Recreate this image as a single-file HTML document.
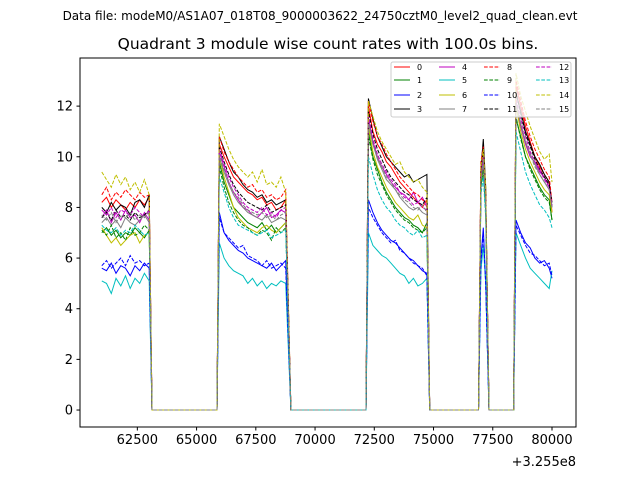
<!DOCTYPE html>
<html><head><meta charset="utf-8"><style>
body{margin:0;background:#fff;}
svg text{font-family:"DejaVu Sans","Liberation Sans",sans-serif;}
</style></head><body>
<svg id="chart" width="640" height="480" xmlns="http://www.w3.org/2000/svg">
<rect width="640" height="480" fill="#fff"/>
<text x="320" y="20" font-size="12" text-anchor="middle">Data file: modeM0/AS1A07_018T08_9000003622_24750cztM0_level2_quad_clean.evt</text>
<text x="328" y="49" font-size="15.5" text-anchor="middle">Quadrant 3 module wise count rates with 100.0s bins.</text>
<g id="plot"></g>
<rect x="80" y="58" width="496" height="369" fill="none" stroke="#000" stroke-width="1"/>
<text x="576" y="466" font-size="13" text-anchor="end">+3.255e8</text>
</svg>
<script>
const times=[61000,61200,61400,61600,61800,62000,62200,62400,62600,62800,63000,63120,65860,
65960,66160,66360,66560,66760,66960,67160,67360,67560,67760,67960,68160,68360,68560,68760,68980,72150,
72250,72440,72630,72820,73010,73200,73390,73580,73770,73960,74150,74340,74530,74720,74840,76900,
77000,77100,77200,77340,78380,78480,78680,78880,79080,79280,79480,79680,79880,80000];
const s0=[8.2,8.4,8.0,8.3,8.1,7.9,8.2,8.0,8.3,8.1,8.4,0,0,10.5,10.0,9.6,9.2,9.0,8.8,8.6,8.5,8.3,8.4,8.1,8.2,7.9,8.0,8.3,0,0,12.0,11.0,10.5,10.2,9.8,9.6,9.3,9.0,8.8,8.6,8.4,8.2,8.0,8.3,0,0,9.5,10.2,8.5,0,0,12.8,12.0,11.2,10.6,10.0,9.6,9.3,9.0,7.8];
const s1=[7.0,7.2,6.9,7.1,6.8,7.0,6.9,7.2,7.0,6.8,7.1,0,0,9.8,9.0,8.5,8.0,7.8,7.6,7.4,7.3,7.2,7.4,7.1,7.3,7.0,7.2,7.4,0,0,11.0,10.0,9.5,9.0,8.6,8.3,8.0,7.8,7.6,7.5,7.3,7.2,7.0,7.4,0,0,8.8,9.6,8.0,0,0,11.5,10.8,10.0,9.6,9.2,8.8,8.5,8.3,7.5];
const s2=[5.6,5.5,5.8,5.4,5.7,5.6,5.3,5.7,5.5,5.8,5.6,0,0,7.8,7.0,6.7,6.5,6.3,6.2,6.0,5.9,5.8,5.7,5.6,5.8,5.5,5.7,5.9,0,0,8.3,7.8,7.4,7.1,6.9,6.7,6.6,6.4,6.2,6.0,5.9,5.7,5.5,5.4,0,0,6.0,7.2,5.0,0,0,7.5,7.0,6.6,6.4,6.0,5.8,5.9,5.6,5.2];
const s3=[8.0,7.8,8.2,7.9,8.1,8.0,7.7,8.2,8.3,8.0,8.5,0,0,10.8,10.3,9.8,9.4,9.2,8.9,8.7,8.6,8.4,8.5,8.2,8.3,8.1,8.2,8.3,0,0,12.3,11.5,10.8,10.4,10.0,9.8,9.6,9.4,9.2,9.3,9.0,9.1,9.2,9.3,0,0,9.5,10.7,8.8,0,0,12.5,11.8,11.0,10.5,10.0,9.7,9.3,9.0,8.0];
const s4=[7.6,7.9,7.4,7.8,7.5,7.9,7.6,7.7,7.4,7.8,7.5,0,0,10.2,9.6,9.0,8.6,8.3,8.0,7.9,7.7,7.6,7.8,8.0,7.6,7.7,7.9,7.8,0,0,11.5,10.6,10.0,9.6,9.3,9.0,8.8,8.6,8.5,8.3,8.6,8.2,8.4,8.0,0,0,9.2,10.0,8.3,0,0,12.0,11.2,10.5,10.0,9.8,9.4,9.2,8.8,8.0];
const s5=[5.1,5.0,4.6,5.2,4.9,5.3,4.8,5.2,5.0,5.4,5.1,0,0,6.6,6.0,5.7,5.5,5.4,5.3,5.0,5.2,4.9,5.1,4.8,5.0,4.9,5.1,5.0,0,0,7.0,6.5,6.3,6.1,6.0,5.8,5.6,5.4,5.3,5.0,5.2,4.9,5.0,5.2,0,0,5.5,6.5,5.0,0,0,7.0,6.5,6.0,5.6,5.4,5.2,5.0,4.8,5.5];
const s6=[7.2,6.9,6.6,6.8,6.5,6.7,6.9,7.0,6.6,6.9,7.0,0,0,10.0,9.2,8.6,8.0,7.6,7.4,7.2,7.1,7.0,7.2,7.3,7.1,7.0,7.2,7.4,0,0,11.2,10.2,9.6,9.2,8.8,8.5,8.2,8.0,7.8,7.6,7.5,7.7,7.3,7.2,0,0,9.0,9.8,8.0,0,0,12.0,11.0,10.3,9.8,9.4,9.0,8.7,8.5,7.8];
const s7=[7.4,7.6,7.3,7.5,7.2,7.6,7.4,7.3,7.5,7.7,7.4,0,0,10.0,9.4,8.9,8.5,8.2,8.0,7.8,7.7,7.6,7.5,7.7,7.4,7.5,7.6,7.5,0,0,11.4,10.5,9.9,9.5,9.1,8.9,8.7,8.4,8.2,8.0,7.9,8.0,7.8,7.7,0,0,9.0,9.8,8.1,0,0,12.2,11.3,10.6,10.1,9.7,9.3,9.0,8.7,8.0];
const s8=[8.5,8.8,8.3,8.6,8.4,8.7,8.5,8.3,8.6,8.4,8.5,0,0,10.8,10.2,9.8,9.5,9.2,9.0,8.8,8.9,8.6,8.7,8.4,8.5,8.3,8.4,8.7,0,0,12.2,11.4,10.8,10.5,10.1,9.8,9.5,9.2,9.0,8.8,8.6,8.5,8.3,8.2,0,0,9.8,10.4,8.6,0,0,13.0,12.2,11.4,10.8,10.3,9.9,9.5,9.2,8.2];
const s9=[7.1,6.9,7.3,6.8,7.0,6.7,7.2,6.9,7.0,7.3,7.1,0,0,9.6,8.8,8.2,7.8,7.5,7.3,7.2,7.0,6.9,7.1,7.0,6.7,7.2,7.0,7.2,0,0,10.8,9.9,9.3,8.9,8.5,8.2,7.9,7.7,7.5,7.4,7.2,7.1,7.0,7.2,0,0,8.8,9.5,7.9,0,0,11.6,10.7,10.0,9.5,9.1,8.7,8.4,8.2,7.5];
const s10=[5.7,5.9,5.6,5.8,6.0,5.7,6.1,5.8,5.9,5.7,5.8,0,0,7.6,7.0,6.8,6.6,6.4,6.5,6.1,6.0,5.9,5.7,5.9,5.6,5.7,5.8,5.6,0,0,8.0,7.6,7.3,7.0,6.8,6.6,6.7,6.3,6.2,6.0,5.8,5.7,5.6,5.3,0,0,5.8,7.0,5.0,0,0,7.3,6.9,6.5,6.2,6.1,5.9,5.7,5.8,5.3];
const s11=[7.6,7.8,7.5,7.9,7.6,7.7,7.5,7.8,7.6,7.7,7.9,0,0,10.4,9.8,9.3,8.9,8.6,8.4,8.2,8.1,8.0,7.9,8.1,7.8,7.9,8.0,8.1,0,0,11.8,10.9,10.3,9.9,9.5,9.2,9.0,8.8,8.6,8.5,8.3,8.2,8.1,8.4,0,0,9.3,10.3,8.5,0,0,12.6,11.7,10.9,10.4,9.9,9.5,9.2,8.9,8.2];
const s12=[7.9,7.7,8.0,7.6,7.9,7.8,7.7,8.0,7.8,7.6,7.9,0,0,10.3,9.7,9.2,8.8,8.5,8.2,8.0,7.9,7.8,8.0,7.7,7.8,7.6,7.9,8.0,0,0,11.6,10.7,10.1,9.7,9.4,9.1,8.9,8.6,8.4,8.3,8.1,8.2,8.0,7.9,0,0,9.1,10.0,8.4,0,0,12.3,11.5,10.8,10.2,9.8,9.5,9.1,8.8,8.1];
const s13=[7.3,7.1,7.0,7.2,6.9,7.1,7.0,7.3,7.1,6.9,7.0,0,0,9.2,8.6,8.0,7.6,7.3,7.2,7.1,7.0,6.9,7.0,7.1,6.8,6.9,7.0,7.1,0,0,10.0,9.3,8.7,8.3,8.0,7.8,7.5,7.3,7.2,7.0,6.9,7.1,6.8,6.9,0,0,8.5,9.2,7.6,0,0,11.0,10.2,9.4,8.9,8.5,8.1,7.9,7.6,7.2];
const s14=[9.4,9.1,8.8,9.3,8.9,9.2,8.7,9.0,8.6,9.1,8.5,0,0,11.3,10.8,10.3,9.9,9.6,9.4,9.2,9.4,9.0,9.5,8.9,9.0,8.8,9.2,8.6,0,0,12.2,11.6,11.0,10.6,10.3,10.0,9.7,9.8,9.4,9.2,9.0,9.1,8.8,8.6,0,0,9.6,10.3,8.8,0,0,13.3,12.4,11.8,11.2,10.7,10.2,9.9,10.1,9.0];
const s15=[7.7,7.5,7.8,7.4,7.7,7.6,7.8,7.5,7.7,7.6,7.8,0,0,10.1,9.5,9.0,8.6,8.4,8.1,7.9,7.8,7.7,7.8,7.6,7.7,7.5,7.7,7.8,0,0,11.3,10.5,10.0,9.6,9.2,9.0,8.7,8.5,8.3,8.2,8.0,7.9,8.1,7.8,0,0,9.0,9.9,8.2,0,0,12.1,11.3,10.6,10.1,9.6,9.3,9.0,8.7,8.0];
const seriesLabels=["0","1","2","3","4","5","6","7","8","9","10","11","12","13","14","15"];
const xTicks=[62500,65000,67500,70000,72500,75000,77500,80000];
const xTickLabels=["62500","65000","67500","70000","72500","75000","77500","80000"];
const yTicks=[0,2,4,6,8,10,12];
const allSeries=[s0,s1,s2,s3,s4,s5,s6,s7,s8,s9,s10,s11,s12,s13,s14,s15];
const colors=["#ff0000","#008000","#0000ff","#000000","#bf00bf","#00bfbf","#bfbf00","#808080"];
const NS="http://www.w3.org/2000/svg";
const X0=80,X1=576,Y0=58,Y1=427;
const xmin=60080,xmax=81013,ymin=-0.67,ymax=13.9;
function xs(v){return X0+(v-xmin)/(xmax-xmin)*(X1-X0);}
function ys(v){return Y1-(v-ymin)/(ymax-ymin)*(Y1-Y0);}
const plot=document.getElementById('plot');
function mk(tag,attrs){const e=document.createElementNS(NS,tag);for(const k in attrs)e.setAttribute(k,attrs[k]);return e;}
xTicks.forEach((t,i)=>{
  const l=mk('line',{x1:xs(t),x2:xs(t),y1:Y1,y2:Y1+3.5,stroke:'#000'});
  
  
  plot.appendChild(l);
  const tx=mk('text',{x:xs(t),y:Y1+17,'font-size':'13','text-anchor':'middle'});
  tx.textContent=xTickLabels[i];
  
  
  plot.appendChild(tx);
});
yTicks.forEach(t=>{
  const l=mk('line',{x1:X0-3.5,x2:X0,y1:ys(t),y2:ys(t),stroke:'#000'});
  
  
  plot.appendChild(l);
  const tx=mk('text',{x:X0-7,y:ys(t)+4.5,'font-size':'13','text-anchor':'end'});
  tx.textContent=String(t);
  
  
  plot.appendChild(tx);
});
allSeries.forEach((s,i)=>{
  const pts=s.map((v,j)=>xs(times[j]).toFixed(1)+','+ys(v).toFixed(1)).join(' ');
  const p=mk('polyline',{points:pts,fill:'none',stroke:colors[i%8],'stroke-width':'1'});
  if(i>=8)p.setAttribute('stroke-dasharray','3.7,1.6');
  
  
  plot.appendChild(p);
});
const lg=mk('g',{});


plot.appendChild(lg);
lg.appendChild(mk('rect',{x:391,y:62,width:180,height:55,fill:'#fff','fill-opacity':'0.8',stroke:'#ccc',rx:2}));
const colX=[394,439,484,536];
const rowY=[67,80,95,109];
seriesLabels.forEach((lab,i)=>{
  const c=Math.floor(i/4),r=i%4;
  const ln=mk('line',{x1:colX[c],x2:colX[c]+16,y1:rowY[r],y2:rowY[r],stroke:colors[i%8],'stroke-width':'1'});
  if(i>=8)ln.setAttribute('stroke-dasharray','3.7,1.6');
  
  
  lg.appendChild(ln);
  const tx=mk('text',{x:colX[c]+23,y:rowY[r]+3,'font-size':'8'});
  tx.textContent=lab;
  
  
  lg.appendChild(tx);
});
</script>
</body></html>
